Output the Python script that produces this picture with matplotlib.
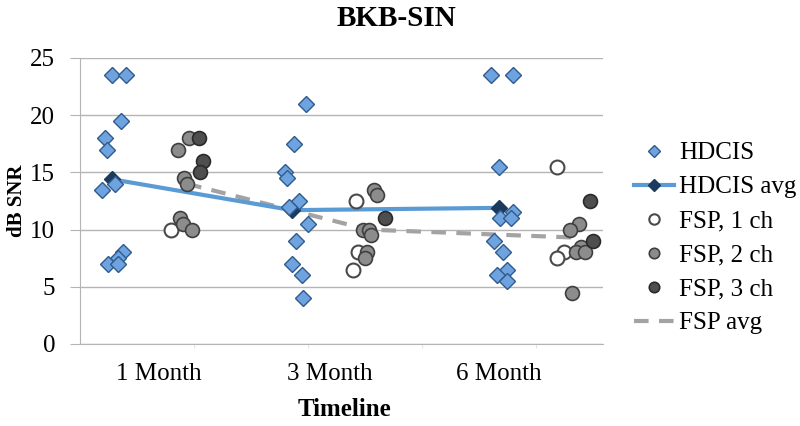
import matplotlib.pyplot as plt
from matplotlib.ticker import FixedLocator

# x positions are in axis units (axis runs 0 .. 4.59)
month_labels = ["1 Month", "3 Month", "6 Month"]
month_label_x = [0.69, 2.19, 3.68]

hdcis_x = [0.28, 0.40, 0.36, 0.22, 0.24, 0.31, 0.19, 0.38, 0.33, 0.25, 0.33,
           1.98, 1.88, 1.80, 1.82, 1.92, 1.83, 2.00, 1.90, 1.86, 1.95, 1.96,
           3.61, 3.80, 3.68, 3.80, 3.69, 3.78, 3.63, 3.71, 3.75, 3.66, 3.75]
hdcis_y = [23.5, 23.5, 19.5, 18, 17, 14, 13.5, 8, 7.5, 7, 7,
           21, 17.5, 15, 14.5, 12.5, 12, 10.5, 9, 7, 6, 4,
           23.5, 23.5, 15.5, 11.5, 11, 11, 9, 8, 6.5, 6, 5.5]

hdcis_avg_x = [0.28, 1.86, 3.68]
hdcis_avg_y = [14.4, 11.7, 11.9]

fsp1_x = [0.80, 2.42, 2.44, 2.40, 4.19, 4.25, 4.19]
fsp1_y = [10, 12.5, 8, 6.5, 15.5, 8, 7.5]

fsp2_x = [0.96, 0.86, 0.91, 0.94, 0.88, 0.90, 0.98,
          2.58, 2.61, 2.48, 2.54, 2.55, 2.52, 2.50,
          4.38, 4.30, 4.40, 4.35, 4.43, 4.32]
fsp2_y = [18, 17, 14.5, 14, 11, 10.5, 10,
          13.5, 13, 10, 10, 9.5, 8, 7.5,
          10.5, 10, 8.5, 8, 8, 4.5]

fsp3_x = [1.04, 1.08, 1.05, 2.68, 4.48, 4.50]
fsp3_y = [18, 16, 15, 11, 12.5, 9]

fsp_avg_x = [0.94, 2.53, 4.35]
fsp_avg_y = [14.0, 10.0, 9.3]

serif = "Liberation Serif"
grid_col = "#b4b4b4"

fig = plt.figure(figsize=(8, 4.26), dpi=100)
ax = fig.add_axes([80 / 800, 82 / 426, 523 / 800, 286 / 426])

# lines first, markers on top
ax.plot(fsp_avg_x, fsp_avg_y, color="#a3a3a3", lw=3, ls=(0, (3.5, 2.5)),
        label="FSP avg", zorder=2)
ax.plot(hdcis_avg_x, hdcis_avg_y, color="#5b9bd5", lw=3, marker="D",
        ms=8, mfc="#1c3a5e", mec="#1c3a5e", label="HDCIS avg", zorder=3)
ax.plot(hdcis_x, hdcis_y, ls="none", marker="D", ms=8, mfc="#6fa3e0",
        mec="#2f5b8c", mew=1, label="HDCIS", zorder=4)
ax.plot(fsp1_x, fsp1_y, ls="none", marker="o", ms=10, mfc="white",
        mec="#4a4a4a", mew=1.5, label="FSP, 1 ch", zorder=5)
ax.plot(fsp2_x, fsp2_y, ls="none", marker="o", ms=10, mfc="#8c8c8c",
        mec="#3f3f3f", mew=1.2, label="FSP, 2 ch", zorder=5)
ax.plot(fsp3_x, fsp3_y, ls="none", marker="o", ms=10, mfc="#4e4e4e",
        mec="#2a2a2a", mew=1.2, label="FSP, 3 ch", zorder=5)

ax.set_xlim(0, 4.59)
ax.set_ylim(0, 25)
ax.set_yticks(range(0, 26, 5))
ax.yaxis.grid(True, color=grid_col, lw=1)
ax.set_axisbelow(True)
ax.set_xticks(month_label_x)
ax.set_xticklabels(month_labels)
ax.xaxis.set_minor_locator(FixedLocator([1, 2, 3, 4]))
ax.tick_params(axis="x", which="major", length=0, pad=14)
ax.tick_params(axis="x", which="minor", length=3, color="#dddddd")
ax.tick_params(axis="y", length=7, color=grid_col, pad=11)
for lab in ax.get_xticklabels() + ax.get_yticklabels():
    lab.set_fontfamily(serif)
    lab.set_fontsize(18)

for s in ["top", "right"]:
    ax.spines[s].set_visible(False)
for s in ["left", "bottom"]:
    ax.spines[s].set_color(grid_col)

fig.text(396 / 800, 1 - 18 / 426, "BKB-SIN", family=serif, weight="bold",
         fontsize=21, ha="center", va="center")
fig.text(17 / 800, 1 - 201 / 426, "dB SNR", family=serif, weight="bold",
         fontsize=15, rotation=90, ha="center", va="center")
fig.text(345 / 800, 1 - 410 / 426, "Timeline", family=serif, weight="bold",
         fontsize=18, ha="center", va="center")

handles, labels = ax.get_legend_handles_labels()
order = ["HDCIS", "HDCIS avg", "FSP, 1 ch", "FSP, 2 ch", "FSP, 3 ch", "FSP avg"]
hmap = dict(zip(labels, handles))
ax.legend([hmap[k] for k in order], order, loc="upper left",
          bbox_to_anchor=(634 / 800, 1 - 142 / 426),
          bbox_transform=fig.transFigure, frameon=False, borderpad=0,
          borderaxespad=0, markerscale=0.75, handlelength=1.6,
          handletextpad=0.2, labelspacing=0.46,
          prop={"family": serif, "size": 18})

fig.savefig("out.png", dpi=100)
